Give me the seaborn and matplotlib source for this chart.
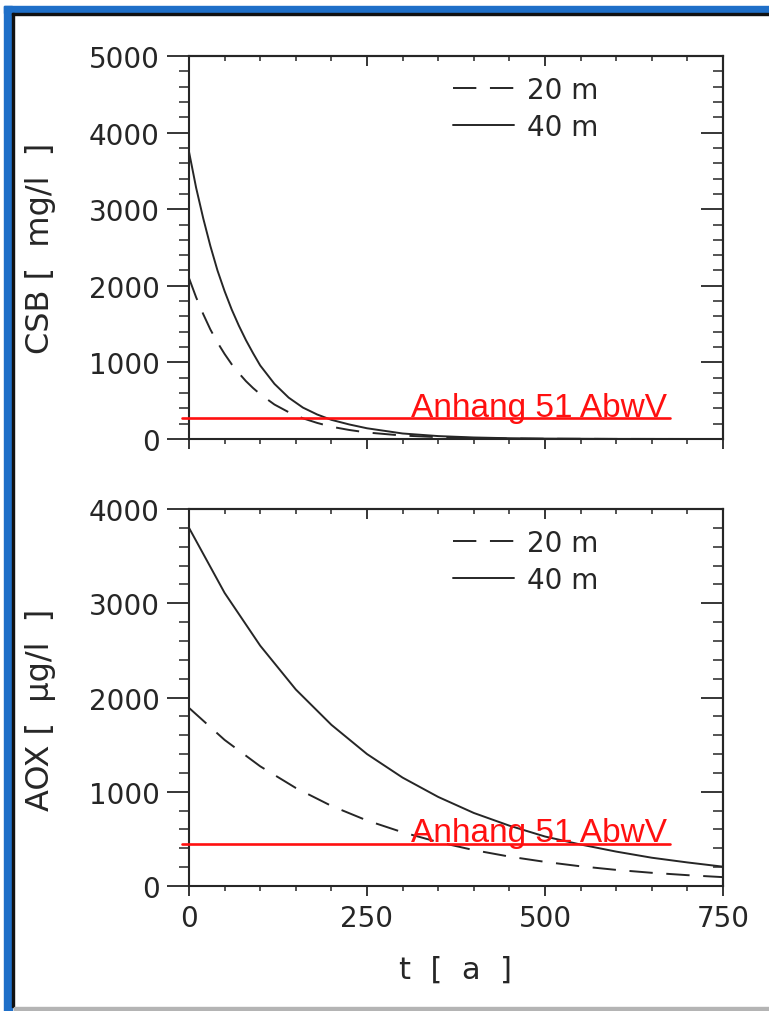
import matplotlib
matplotlib.use("Agg")
import matplotlib.pyplot as plt
from matplotlib.patches import Rectangle
from matplotlib.ticker import MultipleLocator, NullFormatter
import pandas as pd
import seaborn as sns

sns.set_theme(style="ticks")
plt.rcParams["font.family"] = ["DejaVu Sans"]

# ── data ──────────────────────────────────────────────────────────────────────
DEPTHS = ["20 m", "40 m"]

T_CSB = [0, 10, 20, 30, 40, 50, 60, 70, 80, 90, 100, 120, 140, 160, 180, 200,
         225, 250, 300, 350, 400, 450, 500, 600, 750]
CSB_20 = [2100, 1850, 1630, 1430, 1260, 1110, 975, 860, 755, 665, 585, 450, 350, 270, 210, 160,
          118, 85, 45, 24, 12, 6, 3, 1, 0]
CSB_40 = [3750, 3280, 2880, 2520, 2200, 1930, 1690, 1480, 1290, 1120, 960, 720, 540, 410, 320, 250,
          190, 140, 72, 38, 20, 10, 5, 1, 0]

T_AOX = [0, 50, 100, 150, 200, 250, 300, 350, 400, 450, 500, 550, 600, 650, 700, 750]
AOX_20 = [1890, 1550, 1270, 1040, 850, 695, 570, 466, 381, 312, 256, 209, 171, 140, 115, 94]
AOX_40 = [3800, 3110, 2550, 2085, 1710, 1400, 1150, 945, 775, 640, 525, 440, 365, 300, 250, 205]

LIMIT_LABEL = "Anhang 51 AbwV"
LIMIT_CSB = 270
LIMIT_AOX = 450
LIMIT_T = [-10, 676]

X_TICKS = [0, 250, 500, 750]

RED = "#ff1010"
INK = "#262626"


def _long(t, v20, v40):
    return pd.DataFrame({
        "t": list(t) * 2,
        "value": list(v20) + list(v40),
        "depth": [DEPTHS[0]] * len(t) + [DEPTHS[1]] * len(t),
    })


def _style_axes(ax, ymax, show_xlabels):
    ax.set_xlim(0, 750)
    ax.set_ylim(0, ymax)
    ax.xaxis.set_major_locator(MultipleLocator(250))
    ax.xaxis.set_minor_locator(MultipleLocator(50))
    ax.yaxis.set_major_locator(MultipleLocator(1000))
    ax.yaxis.set_minor_locator(MultipleLocator(200))
    for s in ax.spines.values():
        s.set_visible(True)
        s.set_linewidth(1.5)
        s.set_color(INK)
    ax.tick_params(axis="y", which="major", direction="out", length=16, width=1.3,
                   labelsize=20, pad=5, colors=INK, left=True, right=False)
    ax.tick_params(axis="y", which="minor", direction="out", length=7, width=1.1,
                   left=True, right=False, color=INK)
    ax.tick_params(axis="x", which="major", direction="out", length=7, width=1.3,
                   labelsize=20, pad=6, colors=INK, bottom=True, top=False)
    ax.tick_params(axis="x", which="minor", direction="out", length=3.5, width=1.1,
                   bottom=True, top=False, color=INK)
    if not show_xlabels:
        ax.xaxis.set_major_formatter(NullFormatter())

    # top / right ticks point inward, like the original plotting program
    sx = ax.secondary_xaxis("top")
    sy = ax.secondary_yaxis("right")
    sx.xaxis.set_major_locator(MultipleLocator(250))
    sx.xaxis.set_minor_locator(MultipleLocator(50))
    sy.yaxis.set_major_locator(MultipleLocator(1000))
    sy.yaxis.set_minor_locator(MultipleLocator(200))
    for sec, axis in ((sx, "x"), (sy, "y")):
        big = 7 if axis == "x" else 16
        small = 3.5 if axis == "x" else 7
        sec.tick_params(axis=axis, which="major", direction="in", length=big, width=1.3, color=INK)
        sec.tick_params(axis=axis, which="minor", direction="in", length=small, width=1.1, color=INK)
        getattr(sec, axis + "axis").set_major_formatter(NullFormatter())
        for s in sec.spines.values():
            s.set_linewidth(1.5)
            s.set_color(INK)


def _panel(ax, df, ymax, limit, ylabel, show_xlabels):
    sns.lineplot(data=df, x="t", y="value", style="depth", style_order=DEPTHS,
                 dashes={DEPTHS[0]: (12, 7), DEPTHS[1]: ""}, color=INK,
                 linewidth=1.4, legend=False, ax=ax)
    handles = ax.get_lines()[:2]
    ax.plot(LIMIT_T, [limit, limit], color=RED, linewidth=1.9, clip_on=False, zorder=5)
    ax.text(312, limit + 0.007 * ymax, LIMIT_LABEL, color=RED, fontsize=24,
            family=["Liberation Sans", "DejaVu Sans"], va="baseline", ha="left", zorder=6)
    ax.legend(handles, DEPTHS, loc="upper left", bbox_to_anchor=(0.495, 0.948),
              frameon=False, fontsize=20, handlelength=2.2, handletextpad=0.45,
              labelspacing=0.33, borderpad=0, borderaxespad=0, labelcolor=INK)
    _style_axes(ax, ymax, show_xlabels)
    ax.set_xlabel("")
    ax.set_ylabel(ylabel, fontsize=23, color=INK)
    ax.yaxis.set_label_coords(-0.25, 0.5)


fig = plt.figure(figsize=(7.69, 10.12), dpi=100)
W, H = 769.0, 1012.0

ax1 = fig.add_axes([189 / W, 1 - 440 / H, 534 / W, 383 / H])
ax2 = fig.add_axes([189 / W, 1 - 887 / H, 534 / W, 377 / H])

_panel(ax1, _long(T_CSB, CSB_20, CSB_40), 5000, LIMIT_CSB, "CSB [  mg/l  ]", False)
_panel(ax2, _long(T_AOX, AOX_20, AOX_40), 4000, LIMIT_AOX, "AOX [  μg/l  ]", True)
ax2.set_xticks(X_TICKS)
ax2.set_xticklabels([str(v) for v in X_TICKS])
ax2.set_xlabel("t  [  a  ]", fontsize=22, color=INK, labelpad=16)
ax2.yaxis.set_label_coords(-0.25, 0.47)


# ── blue picture frame ────────────────────────────────────────────────────────
def _rect(x0, y0, x1, y1, color):
    fig.patches.append(Rectangle((x0 / W, 1 - y1 / H), (x1 - x0) / W, (y1 - y0) / H,
                                 transform=fig.transFigure, color=color, zorder=0))


_rect(4, 7, W, 14, "#1f6fc8")
_rect(4, 7, 12, H, "#1f6fc8")
_rect(12, 14, W, 16, "#111111")
_rect(12, 14, 14, 1008, "#111111")
_rect(14, 1008, W, H, "#b4b4b4")

fig.savefig("out.png", dpi=100)
